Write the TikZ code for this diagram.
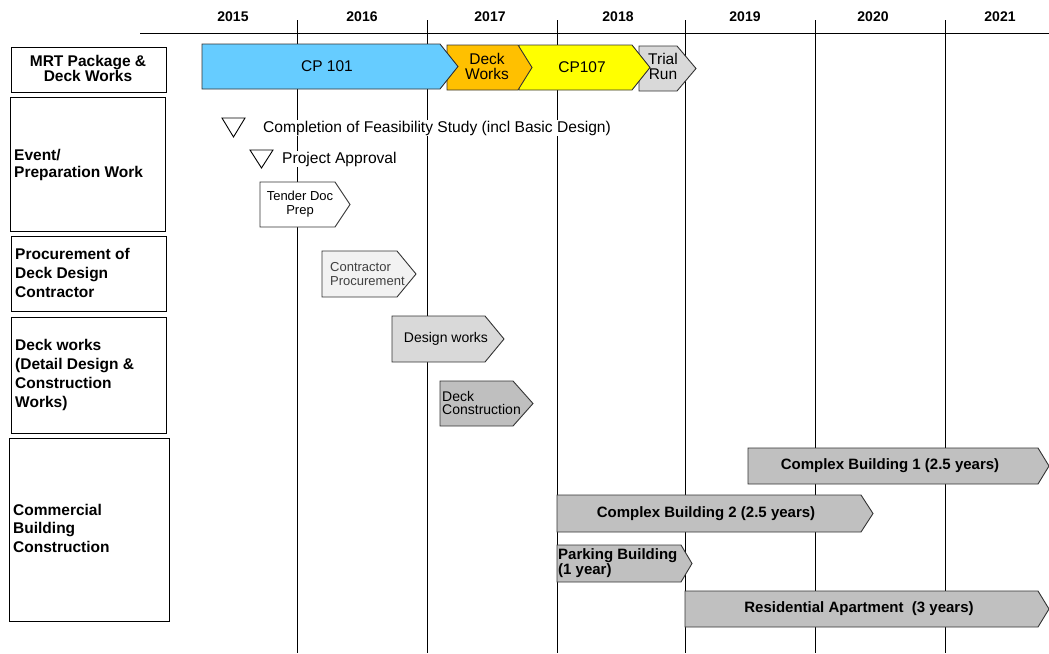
\documentclass[tikz,border=0pt]{standalone}
\usepackage{fontspec}
\setmainfont{Liberation Sans}
\newcommand\gbar[6]{\draw[#1] (#2,#5) -- (#3,#5) -- (#4,{(#5+#6)/2}) -- (#3,#6) -- (#2,#6) -- cycle;}
\begin{document}
\begin{tikzpicture}[x=1pt,y=-1pt,
  hdr/.style={font=\bfseries\fontsize{14}{16}\selectfont, inner sep=0pt},
  lbl/.style={draw=black, line width=0.9pt, fill=white},
  lbltxt/.style={font=\bfseries\fontsize{15.5}{19}\selectfont, align=left, anchor=west, inner sep=0pt},
  btxt/.style={font=\fontsize{15.5}{15}\selectfont, align=center, inner sep=0pt},
  stxt/.style={font=\fontsize{13}{13.5}\selectfont, align=left, inner sep=0pt},
  ctxt/.style={font=\bfseries\fontsize{15}{14.5}\selectfont, align=left, inner sep=0pt},
  barline/.style={draw=black!80, line width=0.9pt},
  gridline/.style={line width=0.9pt}]
\useasboundingbox (0,0) rectangle (1049,653);
% grid
\draw[gridline] (140,33) -- (1049,33);
\foreach \x in {297,427,557,685,815,945} \draw[gridline] (\x,20) -- (\x,653);
% years
\node[hdr] (y15) at (233,17) {2015};
\node[hdr] (y16) at (362,17) {2016};
\node[hdr] (y17) at (490,17) {2017};
\node[hdr] (y18) at (618,17) {2018};
\node[hdr] (y19) at (745,17) {2019};
\node[hdr] (y20) at (873,17) {2020};
\node[hdr] (y21) at (1000,17) {2021};
% left label boxes
\draw[lbl] (11.5,47) rectangle (166.5,92);
\node[font=\bfseries\fontsize{15.5}{15}\selectfont, align=center, inner sep=0pt] (mrt) at (88,68) {MRT Package \&\\ Deck Works};
\draw[lbl] (10.5,97) rectangle (165.5,231);
\node[lbltxt, font=\bfseries\fontsize{15.5}{17}\selectfont] (ev) at (14,165) {Event/\\Preparation Work};
\draw[lbl] (11.5,236) rectangle (166.5,311.5);
\node[lbltxt] (pr) at (15,273) {Procurement of\\Deck Design\\Contractor};
\draw[lbl] (11.5,317.5) rectangle (166.5,433.5);
\node[lbltxt] (dw) at (15,375) {Deck works\\(Detail Design \&\\Construction\\Works)};
\draw[lbl] (9,438) rectangle (169,621);
\node[lbltxt, font=\bfseries\fontsize{15.5}{18.5}\selectfont] (cb) at (13,528) {Commercial\\Building\\Construction};
% top row bars (drawn right to left so tips overlap)
\gbar{barline, fill={rgb,255:red,217;green,217;blue,217}}{639}{677}{696}{46}{91}
\gbar{barline, fill={rgb,255:red,255;green,255;blue,0}}{519}{632}{650}{45}{90}
\gbar{barline, fill={rgb,255:red,255;green,192;blue,0}}{447}{518}{532}{45}{90}
\gbar{barline, fill={rgb,255:red,102;green,204;blue,255}}{202}{440}{458}{44}{89}
\node[btxt] (cp101) at (327,66) {CP 101};
\node[btxt] (deck) at (487,66) {Deck\\Works};
\node[btxt] (cp107) at (582,67) {CP107};
\node[btxt] (trial) at (663,66) {Trial\\Run};
% events
\draw[line width=0.9pt, fill=white] (222,118) -- (245,118) -- (233.5,137) -- cycle;
\node[font=\fontsize{15.6}{16}\selectfont, fill=white, inner sep=1pt, anchor=west] (fs) at (262,128) {Completion of Feasibility Study (incl Basic Design)};
\draw[line width=0.9pt, fill=white] (250,150) -- (273,150) -- (261.5,168) -- cycle;
\node[font=\fontsize{15.6}{16}\selectfont, fill=white, inner sep=1pt, anchor=west] (pa) at (281,159) {Project Approval};
% preparation bars
\gbar{barline, fill=white}{260}{335}{350}{182}{227}
\node[stxt, align=center] (td) at (300,204) {Tender Doc\\Prep};
\gbar{barline, fill={rgb,255:red,242;green,242;blue,242}}{322}{397}{416}{251}{297}
\node[stxt, text=black!75, anchor=west] (cpr) at (330,274) {Contractor\\Procurement};
\gbar{barline, fill={rgb,255:red,217;green,217;blue,217}}{392}{485}{504}{316}{362}
\node[font=\fontsize{14}{14}\selectfont, inner sep=0pt] (dsw) at (446,339) {Design works};
\gbar{barline, fill={rgb,255:red,191;green,191;blue,191}}{440}{513}{533}{381}{426}
\node[font=\fontsize{14}{13.5}\selectfont, align=left, inner sep=0pt, anchor=west] (dc) at (442,403) {Deck\\Construction};
% commercial bars
\gbar{barline, fill={rgb,255:red,192;green,192;blue,192}}{748}{1038}{1049}{448}{484}
\node[ctxt] (c1) at (890,466) {Complex Building 1 (2.5 years)};
\gbar{barline, fill={rgb,255:red,192;green,192;blue,192}}{557}{861}{873}{495}{532}
\node[ctxt] (c2) at (706,514) {Complex Building 2 (2.5 years)};
\gbar{barline, fill={rgb,255:red,192;green,192;blue,192}}{557}{681}{692}{545}{582}
\node[ctxt, anchor=west] (pk) at (558,563) {Parking Building\\(1 year)};
\gbar{barline, fill={rgb,255:red,192;green,192;blue,192}}{685}{1038}{1049}{591}{627}
\node[ctxt] (ra) at (859,609) {Residential Apartment~ (3 years)};
\end{tikzpicture}
\end{document}
